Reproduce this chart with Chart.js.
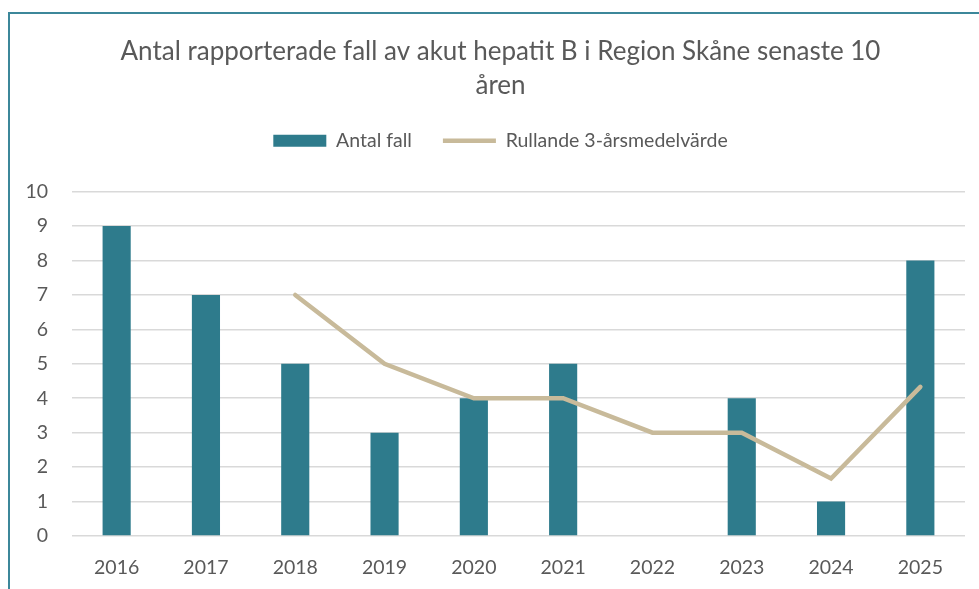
<!DOCTYPE html>
<html>
<head>
<meta charset="utf-8">
<script src="https://cdn.jsdelivr.net/npm/chart.js@4"></script>
<style>
html,body{margin:0;padding:0;background:#fff;}
#wrap{position:absolute;left:0;top:0;width:979px;height:589px;}
</style>
</head>
<body>
<div id="wrap"><canvas id="c" width="979" height="589"></canvas></div>
<script>
const titleLines = ["Antal rapporterade fall av akut hepatit B i Region Skåne senaste 10", "åren"];
const years = ["2016","2017","2018","2019","2020","2021","2022","2023","2024","2025"];
const cases = [9, 7, 5, 3, 4, 5, 0, 4, 1, 8];
const rolling = [null, null, 7, 5, 4, 4, 3, 3, 1.67, 4.33];
const seriesNames = ["Antal fall", "Rullande 3-årsmedelvärde"];

const FONT = "Lato, 'Open Sans', sans-serif";
const TXT = "#595959";

function shiftDraw(el, dx) {
  const od = el.draw;
  el.draw = function () {
    const ctx = this.ctx;
    ctx.save();
    ctx.translate(dx, 0);
    od.apply(this, arguments);
    ctx.restore();
  };
}

const frame = {
  id: 'frame',
  beforeInit(chart) {
    if (chart.legend) {
      const orig = chart.legend.fit;
      chart.legend.fit = function () { orig.call(this); this.height += 31; };
      shiftDraw(chart.legend, 14);
    }
    if (chart.titleBlock) shiftDraw(chart.titleBlock, 14);
  },
  beforeDraw(chart) {
    const ctx = chart.ctx;
    ctx.save();
    ctx.fillStyle = '#fff';
    ctx.fillRect(0, 0, chart.width, chart.height);
    ctx.fillStyle = '#3C879A';
    ctx.fillRect(8, 12, 2, chart.height - 12);
    ctx.fillRect(8, 12, chart.width - 8, 2);
    ctx.restore();
  }
};

new Chart(document.getElementById('c'), {
  data: {
    labels: years,
    datasets: [
      {
        type: 'line',
        label: seriesNames[1],
        data: rolling,
        borderColor: '#C8BA9A',
        backgroundColor: '#C8BA9A',
        borderWidth: 4.5,
        borderCapStyle: 'round',
        pointRadius: 0,
        pointHoverRadius: 0,
        tension: 0,
        spanGaps: false,
        pointStyle: 'line',
        order: 1
      },
      {
        type: 'bar',
        label: seriesNames[0],
        data: cases,
        backgroundColor: '#2E7B8C',
        borderWidth: 0,
        categoryPercentage: 1,
        barPercentage: 0.315,
        pointStyle: 'rect',
        order: 2
      }
    ]
  },
  options: {
    responsive: false,
    animation: false,
    devicePixelRatio: 1,
    layout: { padding: { left: 8, right: 14, top: 0, bottom: 0 } },
    plugins: {
      title: {
        display: true,
        text: titleLines,
        color: TXT,
        font: { family: FONT, size: 26, weight: 'normal', lineHeight: 1.31 },
        padding: { top: 35, bottom: -3 }
      },
      legend: {
        display: true,
        reverse: true,
        labels: {
          color: TXT,
          font: { family: FONT, size: 19.5 },
          usePointStyle: true,
          pointStyleWidth: 53,
          boxHeight: 12,
          padding: 31
        }
      },
      tooltip: { enabled: false }
    },
    scales: {
      x: {
        afterFit(s) { s.height = 53; },
        grid: { display: false },
        border: { display: false },
        ticks: { color: TXT, font: { family: FONT, size: 19.5 }, padding: 12 }
      },
      y: {
        min: 0, max: 10,
        afterFit(s) { s.width = 64; },
        grid: { color: '#D9D9D9', lineWidth: 1.5, drawTicks: false },
        border: { display: false },
        ticks: { stepSize: 1, color: TXT, font: { family: FONT, size: 19.5 }, padding: 24 }
      }
    }
  },
  plugins: [frame]
});
</script>
</body>
</html>
